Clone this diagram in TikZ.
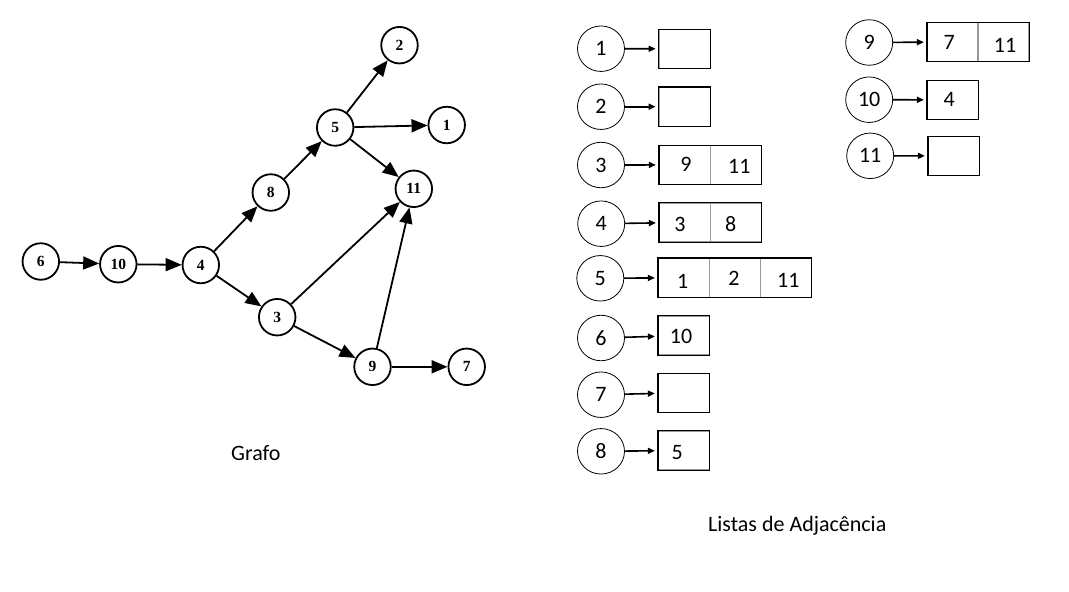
\documentclass[tikz,border=0pt]{standalone}
\usepackage{fontspec}
\setmainfont{Carlito}
\newfontfamily\gfont{Liberation Serif Bold}
\usetikzlibrary{arrows.meta,shapes.geometric}
\begin{document}
\begin{tikzpicture}[x=1pt,y=-1pt,
 gnode/.style={circle,draw,line width=1.8pt,minimum size=36.5pt,inner sep=0pt,font=\gfont\fontsize{15.5}{15.5}\selectfont},
 gedge/.style={line width=1.8pt,-{Triangle[length=16pt,width=13pt]}},
 lnode/.style={ellipse,draw,line width=0.8pt,minimum width=47pt,minimum height=45.5pt,inner sep=0pt,font=\fontsize{22}{22}\selectfont},
 cell/.style={draw=gray!80,line width=0.8pt,minimum width=51pt,minimum height=38.5pt,inner sep=0pt},
 num/.style={font=\fontsize{22}{22}\selectfont,inner sep=0pt},
 ledge/.style={line width=1.6pt,-{Triangle[length=7pt,width=6pt]},shorten >=3pt},
 frame/.style={line width=1.2pt},
 caption/.style={font=\fontsize{22}{22}\selectfont,inner sep=0pt,anchor=base west}
]
\useasboundingbox (0,0) rectangle (1069,592);

% ---------- Graph ----------
\node[gnode] (g6)  at (40.8,261.5) {6};
\node[gnode] (g10) at (118.3,264.2) {10};
\node[gnode] (g4)  at (200.8,265) {4};
\node[gnode] (g8)  at (270.8,192.5) {8};
\node[gnode] (g3)  at (277.2,317.2) {3};
\node[gnode] (g5)  at (335.2,127.5) {5};
\node[gnode] (g2)  at (399.5,45.2) {2};
\node[gnode] (g1)  at (446.7,125) {1};
\node[gnode] (g11) at (413.8,188.8) {11};
\node[gnode] (g9)  at (372.5,366.8) {9};
\node[gnode] (g7)  at (466.7,366.8) {7};

\draw[gedge] (g6) -- (g10);
\draw[gedge] (g10) -- (g4);
\draw[gedge] (g4) -- (g8);
\draw[gedge] (g4) -- (g3);
\draw[gedge] (g8) -- (g5);
\draw[gedge] (g5) -- (g2);
\draw[gedge] (g5) -- (g1);
\draw[gedge] (g5) -- (g11);
\draw[gedge] (g3) -- (g11);
\draw[gedge] (g3) -- (g9);
\draw[gedge] (g9) -- (g11);
\draw[gedge] (g9) -- (g7);

\node[caption] (cap1) at (231,460.7) {Grafo};

% ---------- Adjacency lists ----------
\node[lnode] (l1)  at (601,48.7)  {1};
\node[lnode] (l2)  at (601,106.7) {2};
\node[lnode] (l3)  at (601,165)   {3};
\node[lnode] (l4)  at (601.2,223.7) {4};
\node[lnode] (l5)  at (600.3,278.3) {5};
\node[lnode] (l6)  at (601,338)   {6};
\node[lnode] (l7)  at (601,394.7) {7};
\node[lnode] (l8)  at (601,451.3) {8};
\node[lnode] (l9)  at (869.2,42.5) {9};
\node[lnode] (l10) at (869.2,99.7) {10};
\node[lnode] (l11) at (870.2,155.8) {11};

% cells
\node[cell] (b1a)  at (684.5,48.8) {};
\node[cell] (b2a)  at (684.5,106.7) {};
\node[cell] (b3a)  at (684.8,164.9) {};
\node[cell] (b3b)  at (735.5,164.9) {};
\node[cell] (b4a)  at (684.8,222.5) {};
\node[cell] (b4b)  at (735.5,222.5) {};
\node[cell] (b5a)  at (683.8,277.7) {};
\node[cell] (b5b)  at (734.8,277.7) {};
\node[cell] (b5c)  at (785.4,277.7) {};
\node[cell] (b6a)  at (683.8,335.5) {};
\node[cell] (b7a)  at (683.8,392.8) {};
\node[cell] (b8a)  at (683.8,450.5) {};
\node[cell] (b9a)  at (952.8,42) {};
\node[cell] (b9b)  at (1003.3,42) {};
\node[cell] (b10a) at (952.8,99.9) {};
\node[cell] (b11a) at (953.8,155.9) {};

% outer frames
\draw[frame] (b1a.north west) rectangle (b1a.south east);
\draw[frame] (b2a.north west) rectangle (b2a.south east);
\draw[frame] (b3a.north west) rectangle (b3b.south east);
\draw[frame] (b4a.north west) rectangle (b4b.south east);
\draw[frame] (b5a.north west) rectangle (b5c.south east);
\draw[frame] (b6a.north west) rectangle (b6a.south east);
\draw[frame] (b7a.north west) rectangle (b7a.south east);
\draw[frame] (b8a.north west) rectangle (b8a.south east);
\draw[frame] (b9a.north west) rectangle (b9b.south east);
\draw[frame] (b10a.north west) rectangle (b10a.south east);
\draw[frame] (b11a.north west) rectangle (b11a.south east);

% cell contents
\node[num] (t3a) at (686,164) {9};
\node[num] (t3b) at (739.3,166.7) {11};
\node[num] (t4a) at (680,224.3) {3};
\node[num] (t4b) at (730.7,224.3) {8};
\node[num] (t5a) at (682.7,281.7) {1};
\node[num] (t5b) at (734,278.3) {2};
\node[num] (t5c) at (788.3,280.7) {11};
\node[num] (t6a) at (681,336) {10};
\node[num] (t8a) at (677.3,452.3) {5};
\node[num] (t9a) at (949.3,42.7) {7};
\node[num] (t9b) at (1005,45) {11};
\node[num] (t10a) at (949.3,99.3) {4};

% pointers
\draw[ledge] (l1) -- (b1a);
\draw[ledge] (l2) -- (b2a);
\draw[ledge] (l3) -- (b3a);
\draw[ledge] (l4) -- (b4a);
\draw[ledge] (l5) -- (b5a);
\draw[ledge] (l6) -- (b6a);
\draw[ledge] (l7) -- (b7a);
\draw[ledge] (l8) -- (b8a);
\draw[ledge] (l9) -- (b9a);
\draw[ledge] (l10) -- (b10a);
\draw[ledge] (l11) -- (b11a);

\node[caption] (cap2) at (708,531.7) {Listas de Adjacência};
\end{tikzpicture}
\end{document}
